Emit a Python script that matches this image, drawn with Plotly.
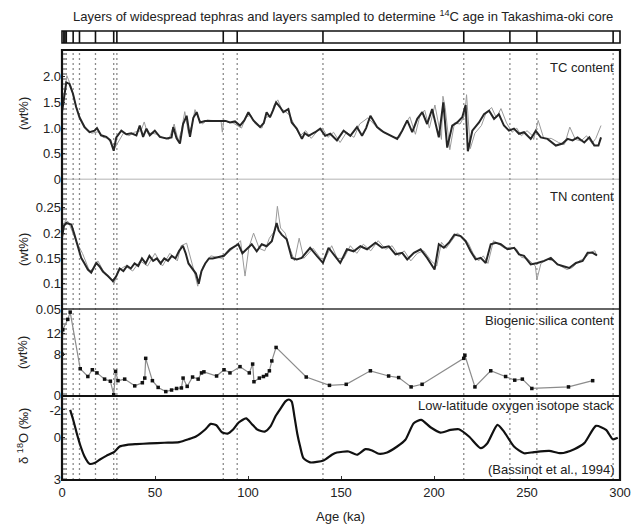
import plotly.graph_objects as go

# ---------------- data ----------------
tephra_ages = [1.0, 1.6, 2.3, 6.0, 9.4, 18.0, 27.8, 29.5, 86.7, 94.2, 140.3, 216.0, 240.8, 255.3, 296.3]

tc_age = [0, 1, 2.3, 4, 5.9, 7.6, 9.4, 12.1, 14.8, 17.5, 18.8, 21, 23.8, 26, 27.8, 29.2, 31.9, 34.6, 37.3, 40,
          41.8, 43.6, 45.4, 47.2, 49.9, 52.6, 56.2, 58.9, 59.8, 61.6, 63.4, 65.1, 67, 68.8, 70.6, 72.4, 74.2,
          76.9, 79.6, 84, 88, 90.3, 93, 95.7, 98, 100.2, 102.9, 106.5, 108.5, 110, 111.8, 113.5, 115.1, 117.2,
          119, 121.7, 123.5, 126.2, 129, 130.5, 132.5, 136.1, 138.8, 141.5, 144.2, 147.8, 151.4, 155, 158.6,
          161.3, 163.5, 165.8, 169.4, 173, 176.6, 180.2, 182.9, 185.6, 188.3, 191, 193.7, 196.3, 199, 202.6,
          205, 207.1, 209.8, 212.5, 215.2, 217, 218.2, 220.6, 224.2, 226.9, 229.6, 232.3, 234.9, 237.6, 240.3,
          243, 245.7, 248.4, 252, 254.7, 257.4, 261, 265.5, 269.1, 271.8, 274.5, 277.2, 280.8, 283.5, 286.2,
          288.4, 289.8]
tc_val = [1.31, 1.6, 1.89, 1.86, 1.67, 1.41, 1.21, 1.02, 0.92, 0.95, 1.0, 0.86, 0.83, 0.76, 0.56, 0.82, 0.95,
          0.88, 0.9, 0.86, 1.05, 0.83, 0.99, 0.86, 0.95, 0.83, 0.8, 0.82, 1.02, 0.8, 0.7, 1.08, 1.24, 0.83, 1.2,
          1.31, 1.11, 1.14, 1.14, 1.14, 1.14, 1.11, 1.13, 1.05, 1.15, 1.31, 1.15, 1.02, 1.1, 1.31, 1.21, 1.35,
          1.5, 1.41, 1.31, 1.37, 1.11, 0.99, 0.79, 0.9, 0.85, 0.92, 0.99, 0.85, 0.89, 0.76, 0.95, 0.85, 1.02,
          0.85, 1.0, 1.24, 1.02, 0.92, 0.85, 0.79, 0.95, 1.15, 0.92, 1.18, 1.31, 1.08, 1.37, 0.82, 1.5, 0.62,
          1.05, 1.11, 1.21, 1.45, 0.55, 0.95, 1.11, 1.27, 1.34, 1.18, 1.27, 1.05, 0.95, 0.99, 0.89, 0.92, 0.79,
          0.95, 0.82, 0.79, 0.66, 0.7, 0.79, 0.76, 0.82, 0.72, 0.82, 0.66, 0.66, 0.82]

tc_raw_age = [0, 1.5, 2.6, 3.4, 5, 7, 10, 13, 16, 19.5, 22, 25, 27.5, 28.5, 33, 36, 39, 42.5, 44.2, 46, 48.5,
              51, 54, 57.5, 60.3, 62.5, 64.2, 66, 68, 69.8, 71.5, 73.3, 75.5, 78, 80, 85.5, 86.2, 87, 89,
              92, 96.5, 99, 101.5, 104, 107.5, 109.2, 112.5, 114, 116, 118, 120.5, 122.5, 125, 128, 131,
              134, 137.5, 140, 143, 146, 149.5, 153, 157, 160, 164.5, 167.5, 171, 175, 178.5, 181.5, 184,
              187, 190, 192.5, 195, 197.5, 200.5, 204, 204.8, 206, 208.5, 211, 214, 216.5, 217.5, 219.5,
              222, 225.5, 228, 231, 233.5, 236, 239, 242, 244.5, 247, 250, 253, 253.6, 256, 259, 263,
              267, 270, 270.5, 273, 276, 279, 282, 285, 287, 289.8]
tc_raw_val = [1.35, 1.75, 2.02, 1.95, 1.8, 1.5, 1.15, 1.0, 0.9, 0.93, 0.82, 0.8, 0.6, 0.62, 0.9, 0.85, 0.92,
              0.95, 1.12, 0.9, 0.9, 0.88, 0.82, 0.78, 1.08, 0.75, 0.95, 1.32, 0.9, 1.05, 1.36, 1.2, 1.08, 1.16,
              1.15, 1.14, 0.92, 1.16, 1.12, 1.1, 1.0, 1.22, 1.25, 1.08, 1.0, 1.2, 1.25, 1.45, 1.55, 1.38, 1.3,
              1.25, 1.05, 0.85, 0.95, 0.8, 0.95, 1.0, 0.82, 0.92, 0.72, 0.92, 0.82, 1.08, 1.2, 1.08, 0.95,
              0.88, 0.82, 0.82, 1.05, 1.22, 0.88, 1.25, 1.35, 1.0, 1.45, 0.78, 1.62, 1.4, 0.58, 1.1, 1.08, 1.25,
              1.65, 0.6, 0.9, 1.05, 1.3, 1.4, 1.2, 1.38, 1.1, 0.92, 1.0, 0.85, 0.95, 0.85, 0.78, 1.15, 0.8,
              0.8, 0.72, 0.68, 0.72, 1.02, 0.78, 0.75, 0.85, 0.7, 0.8, 1.05, 0.68, 0.8]

tn_age = [0, 1, 2.3, 5, 6.7, 8.5, 10.3, 12.1, 13.9, 15.7, 18.4, 20.2, 22, 24.7, 27.4, 29.2, 31, 33, 35, 37, 39,
          41, 43, 45, 47, 49, 51, 53, 55, 57, 59, 61, 63, 65, 66.5, 68, 70, 72, 73.5, 75, 77, 79, 81, 84, 87,
          90.3, 94.8, 97, 99.3, 102, 104.7, 107.4, 110, 112.8, 115.4, 116.5, 118.1, 120.8, 123.5, 126.2, 128.9,
          131, 133.4, 137, 140.3, 143.3, 146, 149.6, 153.2, 156.8, 160.4, 164, 168.5, 172.1, 175.7, 179.3,
          182.9, 185.6, 189.2, 192.8, 196.3, 200.3, 202.6, 205.3, 208, 211, 214.3, 217, 219.7, 222.4, 225.1,
          227.8, 230.5, 233.2, 235.9, 239.5, 243.1, 245.7, 248.4, 252, 255.6, 259.2, 262.8, 266.4, 270, 272.7,
          276.3, 279.9, 282.6, 285.3, 287.6]
tn_val = [0.191, 0.214, 0.22, 0.217, 0.197, 0.174, 0.151, 0.14, 0.128, 0.122, 0.141, 0.134, 0.124, 0.115, 0.105,
          0.115, 0.13, 0.125, 0.135, 0.13, 0.14, 0.135, 0.15, 0.14, 0.155, 0.145, 0.15, 0.14, 0.15, 0.145, 0.155,
          0.15, 0.165, 0.175, 0.16, 0.14, 0.13, 0.12, 0.1, 0.125, 0.14, 0.15, 0.15, 0.152, 0.155, 0.168, 0.178,
          0.16, 0.168, 0.178, 0.164, 0.178, 0.174, 0.184, 0.22, 0.205, 0.197, 0.188, 0.151, 0.148, 0.151, 0.16,
          0.171, 0.155, 0.141, 0.171, 0.158, 0.141, 0.168, 0.164, 0.174, 0.168, 0.181, 0.171, 0.174, 0.158,
          0.161, 0.148, 0.161, 0.168, 0.151, 0.128, 0.178, 0.171, 0.181, 0.197, 0.194, 0.184, 0.164, 0.148,
          0.151, 0.141, 0.178, 0.181, 0.178, 0.168, 0.171, 0.158, 0.155, 0.138, 0.141, 0.145, 0.151, 0.138,
          0.134, 0.131, 0.141, 0.145, 0.161, 0.161, 0.156]

tn_raw_age = [0, 1.8, 3.5, 7.5, 11, 14.8, 17, 19.3, 23.3, 26, 28, 30, 34, 38, 42, 46, 50, 54, 58, 62, 64,
              67, 71, 73, 74, 76, 80, 86, 92, 96, 98.4, 100.5, 103, 106, 109, 111.5, 114.5, 115.8, 117.5,
              120, 122, 125, 127.5, 130, 135, 139, 141.5, 145, 148, 151.5, 155, 158.5, 162, 166, 170, 174,
              177.5, 181, 184, 187.5, 191, 194.5, 198.5, 201.5, 204, 206.5, 209.5, 212.5, 216, 218.5, 221,
              224, 226.5, 229, 232, 234.5, 238, 241, 244.5, 247, 250, 254.5, 255.3, 257.5, 261, 264.5, 268,
              271.5, 274.5, 278, 281, 284, 286.5, 287.6]
tn_raw_val = [0.195, 0.225, 0.222, 0.185, 0.16, 0.125, 0.13, 0.145, 0.118, 0.11, 0.1, 0.125, 0.135, 0.125,
              0.145, 0.135, 0.16, 0.135, 0.16, 0.145, 0.175, 0.18, 0.125, 0.095, 0.115, 0.135, 0.155, 0.15,
              0.17, 0.185, 0.115, 0.172, 0.2, 0.17, 0.165, 0.19, 0.205, 0.253, 0.21, 0.2, 0.175, 0.145, 0.19,
              0.15, 0.17, 0.15, 0.15, 0.175, 0.15, 0.15, 0.175, 0.16, 0.178, 0.165, 0.185, 0.168, 0.175, 0.155,
              0.165, 0.145, 0.16, 0.165, 0.145, 0.135, 0.182, 0.17, 0.185, 0.2, 0.19, 0.18, 0.16, 0.145, 0.155,
              0.14, 0.185, 0.178, 0.17, 0.172, 0.168, 0.152, 0.15, 0.135, 0.108, 0.14, 0.148, 0.145, 0.135,
              0.128, 0.132, 0.145, 0.15, 0.162, 0.165, 0.155]

si_age = [0.0, 0.4, 3.1, 4.4, 9.8, 13.9, 16.3, 18.8, 22.9, 26, 27.8, 28.8, 30.1, 33.7, 39.1, 43.2, 44.5, 45,
          48.6, 51.7, 55.8, 58.9, 61.6, 64.2, 65.1, 67.3, 70.2, 73.2, 75, 76.3, 83.1, 87.1, 90.3, 95.7, 100.7,
          102.5, 103.2, 106.1, 108.3, 110, 111.5, 112.8, 115.1, 131.3, 143.8, 152.8, 165.8, 175.6, 181, 187.7,
          193.6, 216, 216.6, 222, 230.5, 238.5, 243.4, 247.5, 252.6, 272.3, 285.3]
si_val = [8.0, 12.7, 14.7, 16.1, 5.2, 3.7, 5.0, 4.4, 3.2, 2.8, 0.2, 4.7, 2.9, 3.2, 1.9, 2.5, 3.4, 7.2, 2.9, 1.6,
          0.8, 1.1, 1.4, 1.5, 3.4, 1.8, 3.6, 3.2, 4.4, 4.6, 3.8, 5.0, 4.4, 5.6, 4.4, 6.1, 2.7, 3.4, 3.7, 4.0,
          4.8, 6.7, 9.3, 3.6, 2.0, 2.2, 4.8, 3.8, 3.5, 1.7, 2.2, 7.2, 7.8, 1.7, 4.8, 3.7, 3.0, 3.2, 1.4, 1.7, 2.9]

o18_age = [4.4, 6, 8, 10, 12.1, 14.8, 17.5, 20.2, 23.8, 28.3, 31, 35, 40, 47, 55, 63, 68, 72, 77, 80, 83, 86,
           89, 92, 95, 99, 102, 105, 109, 112, 115, 118, 120, 122, 123.5, 125, 126.5, 128, 129.8, 133.4, 140.6,
           145.1, 147.8, 154.1, 158.6, 163.1, 166.7, 170.3, 174.8, 180.2, 184.6, 189.1, 193.1, 198.1, 203.5,
           208.9, 213.4, 218.8, 225.1, 228.7, 234.1, 237.6, 243, 248.4, 253.8, 261.9, 268.2, 275.4, 280.8,
           287.1, 292.5, 296.1, 298.8]
o18_val = [-2.0, -1.3, -0.3, 0.6, 1.33, 1.86, 1.8, 1.57, 1.29, 0.98, 0.62, 0.5, 0.45, 0.4, 0.35, 0.3, 0.1, -0.1,
           -0.6, -1.0, -0.9, -0.4, -0.3, -0.6, -1.1, -1.4, -1.0, -0.6, -0.45, -0.8, -1.6, -2.2, -2.6, -2.75,
           -2.6, -1.5, -0.3, 0.6, 1.45, 1.76, 1.62, 1.21, 1.05, 0.98, 1.21, 0.81, 0.9, 1.14, 1.05, 0.62, 0.14,
           -1.05, -1.29, -0.76, -0.38, -0.57, -0.62, -0.1, 0.74, 0.38, -0.93, -0.45, 0.62, 1.1, 1.02, 0.93,
           1.1, 0.81, 0.38, -0.86, -0.57, 0.1, 0.0]

x_ticks = [0, 50, 100, 150, 200, 250, 300]
tc_ticks = [0, 0.5, 1.0, 1.5, 2.0]
tc_tick_text = ["0", "0.5", "1.0", "1.5", "2.0"]
tn_ticks = [0.05, 0.1, 0.15, 0.2, 0.25]
tn_tick_text = ["0.05", "0.1", "0.15", "0.2", "0.25"]
si_ticks = [0, 8, 12]
si_tick_text = ["0", "8", "12"]
o18_ticks = [-2, 0, 3]
o18_tick_text = ["-2", "0", "3"]

# ---------------- layout geometry ----------------
W, H = 642, 526
ML, MR, MT, MB = 62, 22, 31, 46
PH = H - MT - MB


def py(pix):
    return (H - MB - pix) / PH


def px(pix):
    return (pix - ML) / (W - ML - MR)


FONT = "Arial, Liberation Sans, Helvetica, sans-serif"
TXT = "#222222"

d_box = [py(43), 1.0]
d_tc = [py(179.5), py(50)]
d_tn = [py(309), py(179.5)]
d_si = [py(396), py(309)]
d_o18 = [0.0, py(396)]

fig = go.Figure()

# TC
fig.add_trace(go.Scatter(x=tc_raw_age, y=tc_raw_val, mode="lines", line=dict(color="#9a9a9a", width=1),
                         xaxis="x", yaxis="y2", hoverinfo="skip"))
fig.add_trace(go.Scatter(x=tc_age, y=tc_val, mode="lines", line=dict(color="#262626", width=2),
                         xaxis="x", yaxis="y2"))
# TN
fig.add_trace(go.Scatter(x=tn_raw_age, y=tn_raw_val, mode="lines", line=dict(color="#9a9a9a", width=1),
                         xaxis="x", yaxis="y3", hoverinfo="skip"))
fig.add_trace(go.Scatter(x=tn_age, y=tn_val, mode="lines", line=dict(color="#262626", width=2),
                         xaxis="x", yaxis="y3"))
# Silica
fig.add_trace(go.Scatter(x=si_age, y=si_val, mode="lines+markers",
                         line=dict(color="#8c8c8c", width=1.2),
                         marker=dict(color="#111111", size=3.5, symbol="square"),
                         xaxis="x", yaxis="y4"))
# d18O
fig.add_trace(go.Scatter(x=o18_age, y=o18_val, mode="lines",
                         line=dict(color="#111111", width=2.2, shape="spline", smoothing=0.6),
                         xaxis="x", yaxis="y5"))

shapes = []
# dotted tephra lines through the panels, and solid marks in the top box
for a in tephra_ages:
    shapes.append(dict(type="line", xref="x", yref="paper", x0=a, x1=a, y0=0, y1=d_tc[1],
                       line=dict(color="#8a8a8a", width=1.3, dash="2px,3px"), layer="below"))
    shapes.append(dict(type="line", xref="x", yref="paper", x0=a, x1=a, y0=d_box[0], y1=d_box[1],
                       line=dict(color="#111111", width=1.6)))
# top box
shapes.append(dict(type="rect", xref="paper", yref="paper", x0=0, x1=1, y0=d_box[0], y1=d_box[1],
                   line=dict(color="#111111", width=1.6)))
# separators
shapes.append(dict(type="line", xref="paper", yref="y2", x0=0, x1=1, y0=0, y1=0,
                   line=dict(color="#9a9a9a", width=1.5)))
shapes.append(dict(type="line", xref="paper", yref="paper", x0=0, x1=1, y0=d_tn[0], y1=d_tn[0],
                   line=dict(color="#333333", width=1.3)))
shapes.append(dict(type="line", xref="paper", yref="paper", x0=0, x1=1, y0=d_si[0], y1=d_si[0],
                   line=dict(color="#111111", width=1.8)))
# outer frame
shapes.append(dict(type="rect", xref="paper", yref="paper", x0=0, x1=1, y0=0, y1=d_tc[1],
                   line=dict(color="#111111", width=2.2)))

tickfont = dict(family=FONT, size=13, color=TXT)


def yax(domain, rng, tickvals, ticktext):
    return dict(domain=domain, range=rng, anchor="x", tickmode="array", tickvals=tickvals,
                ticktext=ticktext, ticks="inside", ticklen=3, tickcolor="#333", showgrid=False,
                zeroline=False, showline=False, tickfont=tickfont, fixedrange=True)


annotations = []


def ann(text, x, y, xanchor="center", size=13, angle=0, yanchor="middle"):
    annotations.append(dict(text=text, x=x, y=y, xref="paper", yref="paper", showarrow=False,
                            xanchor=xanchor, yanchor=yanchor, textangle=angle,
                            font=dict(family=FONT, size=size, color=TXT)))


ann("Layers of widespread tephras and layers sampled to determine <sup>14</sup>C age in Takashima-oki core",
    px(343), py(16), size=13)
ann("TC content", px(616), py(67), xanchor="right")
ann("TN content", px(616), py(196), xanchor="right")
ann("Biogenic silica content", px(616), py(320), xanchor="right")
ann("Low-latitude oxygen isotope stack", px(616), py(405), xanchor="right")
ann("(Bassinot et al., 1994)", px(616), py(469), xanchor="right")
ann("(wt%)", px(23), py(114), angle=-90)
ann("(wt%)", px(23), py(250), angle=-90)
ann("(wt%)", px(23), py(353), angle=-90)
ann("δ <sup>18</sup>O (‰)", px(23), py(436), angle=-90)
ann("Age (ka)", px(340), py(516))

fig.update_layout(
    width=W, height=H,
    margin=dict(l=ML, r=MR, t=MT, b=MB, pad=0),
    paper_bgcolor="white", plot_bgcolor="white",
    showlegend=False,
    xaxis=dict(domain=[0, 1], range=[0, 300], anchor="y5", tickmode="array", tickvals=x_ticks,
               ticks="inside", ticklen=4, tickcolor="#333", showgrid=False, zeroline=False,
               showline=False, tickfont=tickfont, fixedrange=True, ticklabelstandoff=3),
    yaxis=dict(domain=d_box, range=[0, 1], anchor="x", visible=False, fixedrange=True),
    yaxis2=yax(d_tc, [0, 2.52], tc_ticks, tc_tick_text),
    yaxis3=yax(d_tn, [0.0499, 0.306], tn_ticks, tn_tick_text),
    yaxis4=yax(d_si, [-0.05, 16.7], si_ticks, si_tick_text),
    yaxis5=yax(d_o18, [3.02, -3.0], o18_ticks, o18_tick_text),
    shapes=shapes,
    annotations=annotations,
)

fig.write_html("out.html")
